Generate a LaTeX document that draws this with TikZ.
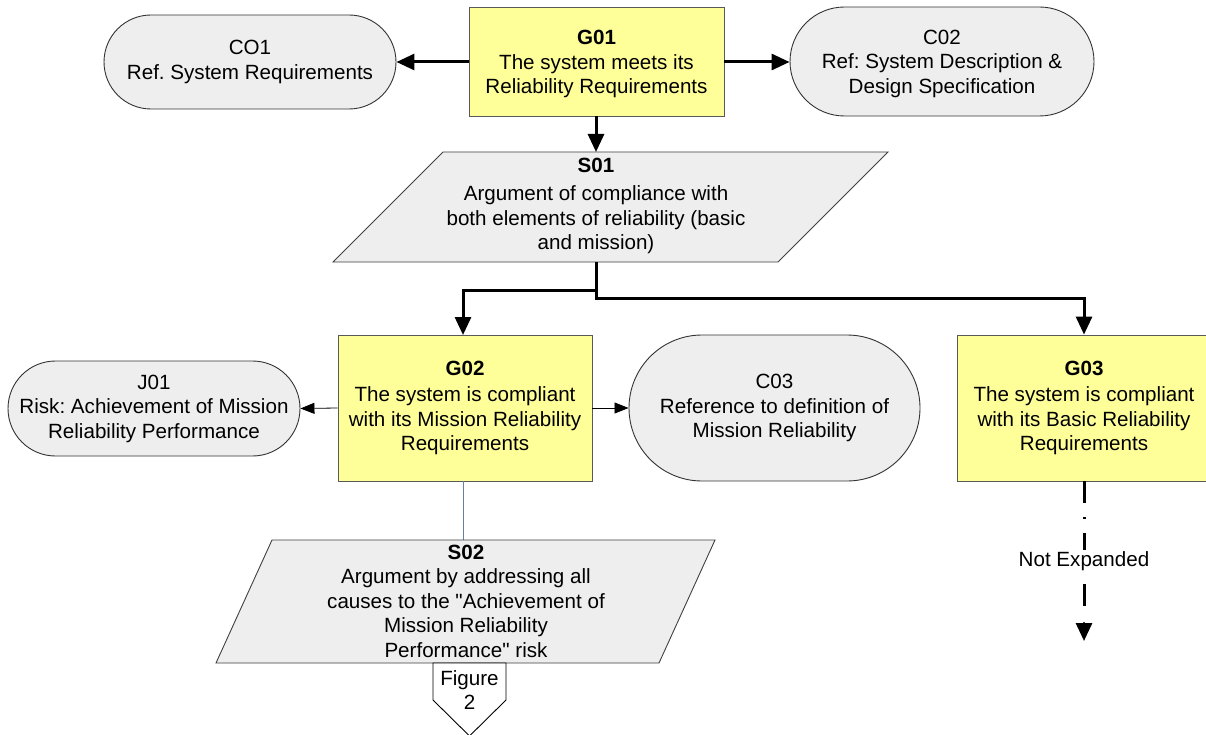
\documentclass[tikz,border=0pt]{standalone}
\usepackage{fontspec}
\setmainfont{Liberation Sans}
\newfontfamily\plainsans{Liberation Sans}
\usetikzlibrary{arrows.meta}
\definecolor{goalyellow}{HTML}{FFFF99}
\definecolor{ctxgray}{HTML}{EEEEEE}
\definecolor{thinblue}{HTML}{6A7FA8}
\newcommand{\dq}{{\plainsans "}}
\frenchspacing
\begin{document}
\begin{tikzpicture}[x=1pt,y=-1pt,
  txt/.style={font=\fontsize{20.6}{24.5}\selectfont, align=center, inner sep=0pt},
  goal/.style={txt, draw=black!65, fill=goalyellow, line width=0.9pt, inner sep=0pt},
  ctx/.style={txt, draw=black!80, fill=ctxgray, line width=0.9pt, inner sep=0pt},
  strat/.style={draw=black!75, fill=ctxgray, line width=0.9pt},
  thick arrow/.style={line width=3pt, -{Triangle[length=18pt,width=16pt]}},
  thin arrow/.style={line width=0.8pt, -{Triangle[length=14pt,width=11pt]}},
]
\useasboundingbox (0,0) rectangle (1206,735);
\fill[white] (0,0) rectangle (1206,735);

% top row
\node[goal, minimum width=255pt, minimum height=109pt] (G01) at (596.5,61.5) {};
\node[txt] (G01t) at (596.5,64) {\textbf{G01}\\The system meets its\\Reliability Requirements};
\node[ctx, minimum width=292pt, minimum height=94pt, rounded corners=47pt] (CO1) at (250,62)
  {CO1\\Ref. System Requirements};
\node[ctx, minimum width=304pt, minimum height=109pt, rounded corners=54.5pt] (C02) at (942,61.5) {};
\node[txt] (C02t) at (942,63.5) {C02\\Ref: System Description \&\\Design Specification};

\draw[thick arrow] (G01.west |- 0,62) -- (CO1.east |- 0,62);
\draw[thick arrow] (G01.east |- 0,62) -- (C02.west |- 0,62);

% S01
\draw[strat] (443,152) -- (888,152) -- (778,262) -- (333,262) -- cycle;
\coordinate (S01top) at (596,152);
\coordinate (S01bot) at (596,262);
\node[txt] (S01) at (596,206)
  {\textbf{S01}\\[4pt]Argument of compliance with\\both elements of reliability (basic\\and mission)};
\draw[thick arrow] (G01.south -| S01top) -- (S01top);

% second row
\node[goal, minimum width=254pt, minimum height=146pt] (G02) at (465,408)
  {\textbf{G02}\\[2pt]The system is compliant\\with its Mission Reliability\\Requirements};
\node[goal, minimum width=254pt, minimum height=146pt] (G03) at (1084,408)
  {\textbf{G03}\\[2pt]The system is compliant\\with its Basic Reliability\\Requirements};
\node[ctx, minimum width=292pt, minimum height=95pt, rounded corners=47.5pt] (J01) at (154,408.5)
  {J01\\Risk: Achievement of Mission\\Reliability Performance};
\node[ctx, minimum width=291pt, minimum height=146pt, rounded corners=73pt] (C03) at (774.5,408)
  {C03\\Reference to definition of\\Mission Reliability};

\draw[thick arrow] (S01bot) -- (596,290) -- (463,290) -- (463,335);
\draw[thick arrow] (S01bot) -- (596,298) -- (1084,298) -- (G03.north);
\draw[thin arrow] (G02.west) -- (J01.east);
\draw[thin arrow] (G02.east) -- (C03.west);

% S02
\draw[thinblue, line width=0.8pt] (463,481) -- (463,540);
\draw[strat] (272,540) -- (715,540) -- (659,663) -- (216,663) -- cycle;
\node[txt] (S02) at (466,601)
  {\textbf{S02}\\Argument by addressing all\\causes to the \dq Achievement of\\Mission Reliability\\Performance\dq\ risk};

% Figure 2 off-page connector
\draw[fill=white, line width=0.9pt] (433,663) -- (506,663) -- (506,700) -- (469.5,736) -- (433,700) -- cycle;
\node[txt] (F2) at (469.5,690) {Figure\\2};

% not expanded
\coordinate (NEend) at (1084,641);
\draw[line width=3pt, dash pattern=on 22pt off 14pt on 1.5pt off 14pt] (G03.south) -- (1084,610);
\fill (1084,623) circle (1.2pt);
\draw[line width=3pt, -{Triangle[length=18pt,width=16pt]}] (1084,624) -- (NEend);
\node[txt, fill=white, inner ysep=1pt, inner xsep=2pt] (NE) at (1084,561) {Not Expanded};
\end{tikzpicture}
\end{document}
